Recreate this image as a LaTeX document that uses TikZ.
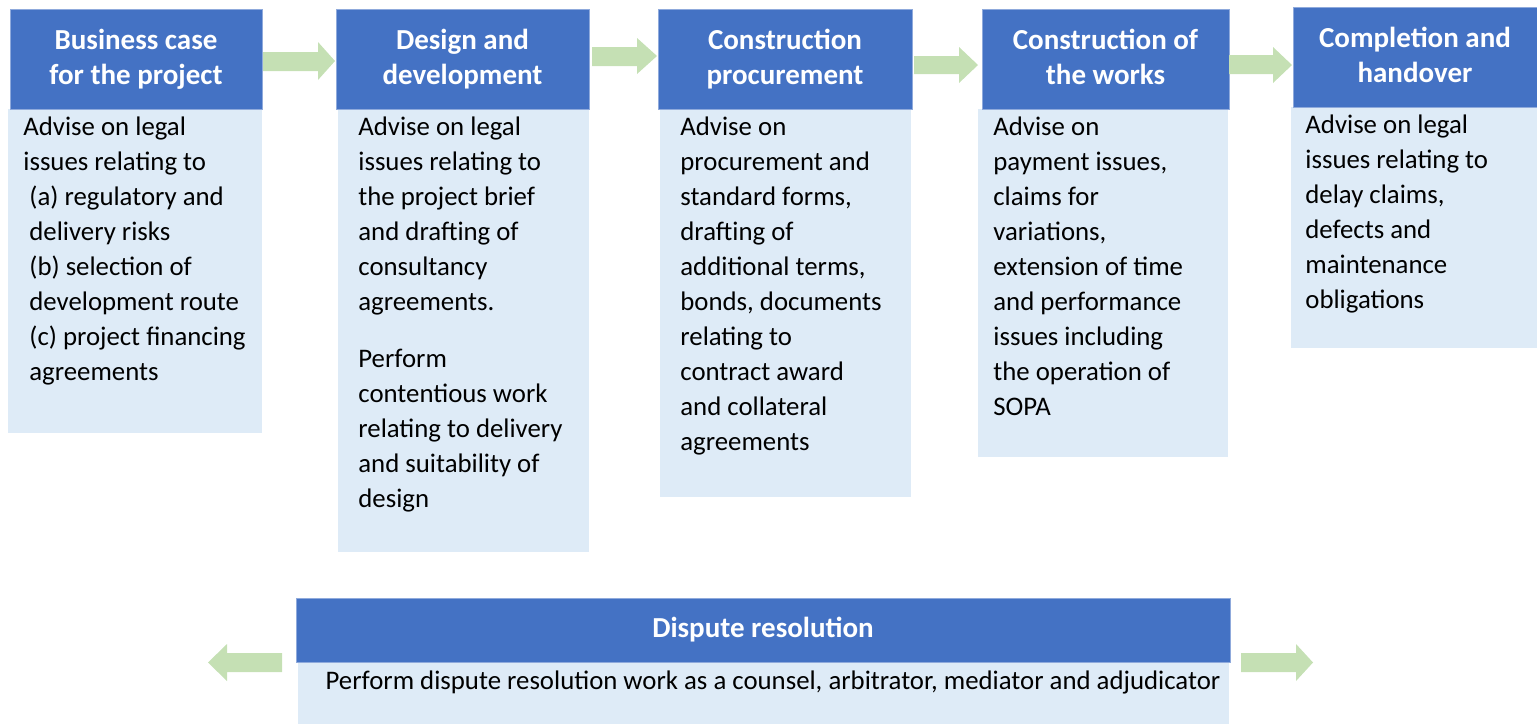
\documentclass[tikz,border=0pt]{standalone}
\usepackage{fontspec}
\setmainfont{Carlito}
\usetikzlibrary{fit}

\definecolor{hdrblue}{HTML}{4472C4}
\definecolor{hdredge}{HTML}{8FAADC}
\definecolor{bodyblue}{HTML}{DEEBF7}
\definecolor{arrowgreen}{HTML}{C5E0B4}

% block arrow: shaft start, shaft end, tip x; shaft top/bottom; head top/bottom
\newcommand\flowarrow[7]{%
  \fill[arrowgreen] (#1,#4) -- (#2,#4) -- (#2,#6) -- (#3,{(#6+#7)/2})
    -- (#2,#7) -- (#2,#5) -- (#1,#5) -- cycle;}

\tikzset{
  hdr/.style={fill=hdrblue, draw=hdredge, line width=0.5pt, inner sep=0pt},
  bodybox/.style={fill=bodyblue, inner sep=0pt},
  hdrtext/.style={text=white, align=center, inner sep=0pt,
    font=\fontsize{14.5pt}{17.5pt}\selectfont\bfseries},
  bodytext/.style={text=black, align=left, inner sep=0pt, anchor=north west,
    font=\fontsize{13.4pt}{17.5pt}\selectfont},
}

\begin{document}
\begin{tikzpicture}[x=0.5pt,y=-0.5pt]
\useasboundingbox (0,0) rectangle (1537,724);

% ---- stage bodies ----
\node[bodybox, fit={(8,109)(262,433)}] (b1) {};
\node[bodybox, fit={(338,109)(589,552)}] (b2) {};
\node[bodybox, fit={(660,109)(911,497)}] (b3) {};
\node[bodybox, fit={(978,109)(1228,457)}] (b4) {};
\node[bodybox, fit={(1291,107)(1537,348)}] (b5) {};
\node[bodybox, fit={(298,662)(1229,724)}] (b6) {};

% ---- stage headers ----
\node[hdr, fit={(10,9)(262,109)}] (h1) {};
\node[hdr, fit={(336,9)(589,109)}] (h2) {};
\node[hdr, fit={(658,9)(912,109)}] (h3) {};
\node[hdr, fit={(982,9)(1229,109)}] (h4) {};
\node[hdr, fit={(1293,7)(1537,107)}] (h5) {};
\node[hdr, fit={(296,598)(1230,662)}] (h6) {};

\node[hdrtext, yshift=-0.5pt] (ht1) at (h1.center) {\strut Business case\\\strut for the project};
\node[hdrtext, yshift=-0.5pt] (ht2) at (h2.center) {\strut Design and\\\strut development};
\node[hdrtext, yshift=-0.5pt] (ht3) at (h3.center) {\strut Construction\\\strut procurement};
\node[hdrtext, yshift=-0.5pt] (ht4) at (h4.center) {\strut Construction of\\\strut the works};
\node[hdrtext, yshift=-0.5pt] (ht5) at (h5.center) {\strut Completion and\\\strut handover};
\node[hdrtext] (ht6) at (h6.center) {\strut Dispute resolution};

% ---- stage texts ----
\node[bodytext] (t1) at (23,110.5) {\strut Advise on legal\\
  issues relating to\\
  \hspace*{3pt}(a) regulatory and\\
  \hspace*{3pt}delivery risks\\
  \hspace*{3pt}(b) selection of\\
  \hspace*{3pt}development route\\
  \hspace*{3pt}(c) project financing\\
  \hspace*{3pt}agreements};

\node[bodytext] (t2) at (358,110.5) {\strut Advise on legal\\
  issues relating to\\
  the project brief\\
  and drafting of\\
  consultancy\\
  agreements.\\[11pt]
  Perform\\
  contentious work\\
  relating to delivery\\
  and suitability of\\
  design};

\node[bodytext] (t3) at (680,110.5) {\strut Advise on\\
  procurement and\\
  standard forms,\\
  drafting of\\
  additional terms,\\
  bonds, documents\\
  relating to\\
  contract award\\
  and collateral\\
  agreements};

\node[bodytext] (t4) at (993,110.5) {\strut Advise on\\
  payment issues,\\
  claims for\\
  variations,\\
  extension of time\\
  and performance\\
  issues including\\
  the operation of\\
  SOPA};

\node[bodytext] (t5) at (1305,108.5) {\strut Advise on legal\\
  issues relating to\\
  delay claims,\\
  defects and\\
  maintenance\\
  obligations};

\node[bodytext, anchor=base] (t6) at (773,689)
  {Perform dispute resolution work as a counsel, arbitrator, mediator and adjudicator};

% ---- flow arrows ----
\flowarrow{263}{318}{335}{52}{71}{42}{80}
\flowarrow{592}{637}{657}{47}{66}{38}{74}
\flowarrow{914}{959}{978}{56}{74}{47}{83}
\flowarrow{1229}{1273}{1292}{55}{74}{47}{83}
\flowarrow{1241}{1296}{1313}{653}{672}{644}{681}
\flowarrow{282}{227}{208}{653}{672}{644}{681}
\end{tikzpicture}
\end{document}
